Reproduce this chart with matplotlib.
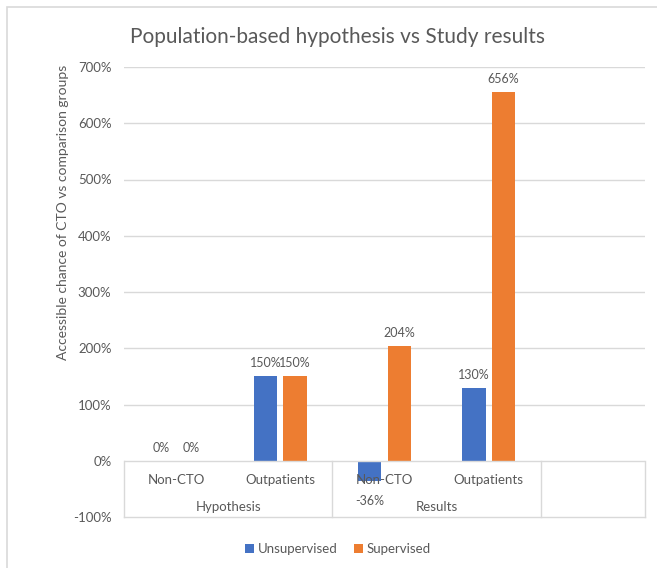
import matplotlib

matplotlib.use("Agg")
import matplotlib.pyplot as plt
from matplotlib.patches import Rectangle
from matplotlib.ticker import FuncFormatter

plt.rcParams["font.family"] = ["Lato", "DejaVu Sans"]

groups = ["Hypothesis", "Results"]
categories = ["Non-CTO", "Outpatients", "Non-CTO", "Outpatients", ""]
unsupervised = [0, 150, -36, 130]
supervised = [0, 150, 204, 656]
series_names = ["Unsupervised", "Supervised"]
y_ticks = [-100, 0, 100, 200, 300, 400, 500, 600, 700]

BLUE = "#4472C4"
ORANGE = "#ED7D31"
TEXT = "#595959"
GRID = "#d9d9d9"

fig = plt.figure(figsize=(6.57, 5.68), dpi=100)
ax = fig.add_axes([124 / 657, 1 - 517 / 568, 521 / 657, 450 / 568])

width = 0.225
offset = 0.1415
xs = list(range(len(unsupervised)))
b1 = ax.bar([x - offset for x in xs], unsupervised, width, color=BLUE, zorder=2, label=series_names[0])
b2 = ax.bar([x + offset for x in xs], supervised, width, color=ORANGE, zorder=2, label=series_names[1])

for bars, vals in ((b1, unsupervised), (b2, supervised)):
    for bar, v in zip(bars, vals):
        cx = bar.get_x() + bar.get_width() / 2
        if v < 0:
            ax.annotate(f"{v}%", (cx, v), xytext=(0, -10), textcoords="offset points",
                        ha="center", va="top", fontsize=9, color=TEXT, zorder=4)
        else:
            ax.annotate(f"{v}%", (cx, v), xytext=(0, 5), textcoords="offset points",
                        ha="center", va="bottom", fontsize=9, color=TEXT, zorder=4)

ax.set_xlim(-0.5, len(categories) - 0.5)
ax.set_ylim(-100, 700)
ax.set_yticks(y_ticks)
ax.yaxis.set_major_formatter(FuncFormatter(lambda v, _: f"{v:.0f}%"))
ax.tick_params(axis="y", length=0, pad=9, labelsize=9.5, labelcolor=TEXT)
ax.set_xticks([])
for s in ax.spines.values():
    s.set_visible(False)

for t in y_ticks[2:]:
    ax.axhline(t, color=GRID, lw=1, zorder=1)

# multi-level category axis drawn as a box under the zero line
x0, x1 = -0.5, len(categories) - 0.5
ax.plot([x0, x1], [0, 0], color=GRID, lw=1, zorder=3)
ax.plot([x0, x1], [-100, -100], color=GRID, lw=1, zorder=3, clip_on=False)
for xb in (-0.5, 1.5, 3.5, 4.5):
    ax.plot([xb, xb], [-100, 0], color=GRID, lw=1, zorder=3, clip_on=False)
for i, c in enumerate(categories):
    ax.text(i, -34, c, ha="center", va="center", fontsize=9.5, color=TEXT, zorder=5)
for g, name in enumerate(groups):
    ax.text(2 * g + 0.5, -82, name, ha="center", va="center", fontsize=9.5, color=TEXT, zorder=5)

fig.text(337 / 657, 1 - 37 / 568, "Population-based hypothesis vs Study results",
         ha="center", va="center", fontsize=15, color=TEXT)
fig.text(63 / 657, 1 - 212 / 568, "Accessible chance of CTO vs comparison groups",
         ha="center", va="center", rotation=90, fontsize=10, color=TEXT)

fig.legend(handles=[b1, b2], labels=series_names, loc="center", bbox_to_anchor=(338 / 657, 1 - 549 / 568),
           ncol=2, frameon=False, fontsize=9.5, labelcolor=TEXT, handlelength=0.7, handleheight=0.7,
           handletextpad=0.3, columnspacing=1.2)

fig.patches.append(Rectangle((7 / 657, -0.05), 1.1, 1 - 7 / 568 + 0.05, transform=fig.transFigure,
                             fill=False, edgecolor=GRID, lw=1.2))

fig.savefig("out.png", dpi=100)
